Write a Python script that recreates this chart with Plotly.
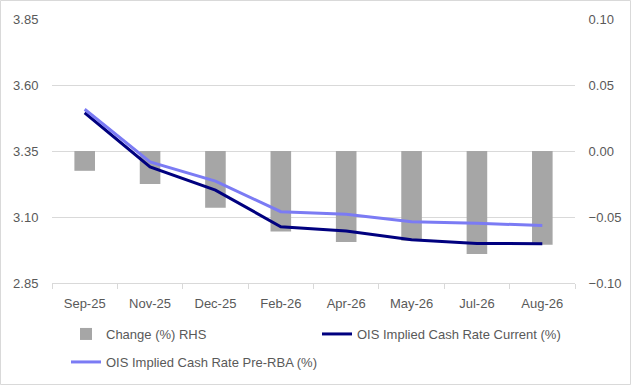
import plotly.graph_objects as go

categories = ["Sep-25", "Nov-25", "Dec-25", "Feb-26", "Apr-26", "May-26", "Jul-26", "Aug-26"]
change_rhs = [-0.015, -0.025, -0.043, -0.061, -0.069, -0.068, -0.078, -0.071]
ois_current = [3.495, 3.290, 3.202, 3.063, 3.047, 3.014, 3.000, 2.999]
ois_pre_rba = [3.508, 3.309, 3.236, 3.120, 3.110, 3.082, 3.076, 3.068]

W, H = 632, 386
ML, MR, MT, MB = 52, 57, 19, 103
PW, PH = W - ML - MR, H - MT - MB

FONT = "Liberation Sans, Arial, sans-serif"
TXT = "#595959"
GRID = "#D9D9D9"

fig = go.Figure()
fig.add_trace(go.Bar(
    x=categories, y=change_rhs, name="Change (%) RHS",
    marker=dict(color="#A6A6A6", line=dict(width=0)),
    yaxis="y", legend="legend", showlegend=True,
))
fig.add_trace(go.Scatter(
    x=categories, y=ois_current, name="OIS Implied Cash Rate Current (%)",
    mode="lines", line=dict(color="#00007F", width=3),
    yaxis="y2", legend="legend3", showlegend=True,
))
fig.add_trace(go.Scatter(
    x=categories, y=ois_pre_rba, name="OIS Implied Cash Rate Pre-RBA (%)",
    mode="lines", line=dict(color="#7B7BF4", width=3),
    yaxis="y2", legend="legend2", showlegend=True,
))

def px_x(p):
    return (p - ML) / PW

def px_y(p):
    return (H - MB - p) / PH

leg_common = dict(
    orientation="h", xanchor="left", yanchor="top",
    font=dict(size=13, color=TXT), bgcolor="rgba(0,0,0,0)",
)

fig.update_layout(
    width=W, height=H,
    showlegend=True,
    margin=dict(l=ML, r=MR, t=MT, b=MB, autoexpand=False),
    paper_bgcolor="white", plot_bgcolor="white",
    font=dict(family=FONT, size=13, color=TXT),
    bargap=0.685,
    xaxis=dict(
        type="category", showgrid=False, showline=True, linecolor=GRID, linewidth=1,
        ticks="outside", tickson="boundaries", ticklen=5, tickcolor=GRID,
        ticklabelstandoff=8,
        tickfont=dict(size=13, color=TXT), fixedrange=True, automargin=False,
    ),
    yaxis=dict(
        side="right", range=[-0.1, 0.1], tick0=-0.1, dtick=0.05, tickformat=".2f",
        showgrid=True, gridcolor=GRID, gridwidth=1, zeroline=False,
        showline=False, ticks="outside", ticklen=0, tickwidth=0,
        tickcolor="rgba(0,0,0,0)", ticklabelstandoff=10, automargin=False,
        tickfont=dict(size=13, color=TXT),
    ),
    yaxis2=dict(
        side="left", overlaying="y", range=[2.85, 3.85], tick0=2.85, dtick=0.25,
        tickformat=".2f", showgrid=False, zeroline=False, showline=False,
        ticks="outside", ticklen=0, tickwidth=0, tickcolor="rgba(0,0,0,0)",
        ticklabelstandoff=10, automargin=False,
        tickfont=dict(size=13, color=TXT),
    ),
    legend=dict(x=px_x(66), y=px_y(319), **leg_common),
    legend3=dict(x=px_x(317), y=px_y(319), **leg_common),
    legend2=dict(x=px_x(66), y=px_y(347), **leg_common),
    shapes=[dict(
        type="rect", xref="paper", yref="paper",
        x0=px_x(0.5), x1=px_x(W - 1.5), y0=px_y(H - 1.5), y1=px_y(0.5),
        line=dict(color=GRID, width=1), fillcolor="rgba(0,0,0,0)", layer="below",
    )],
)

fig.write_html(
    "out.html",
    config={"displayModeBar": False},
    post_script="document.body.style.margin='0';document.body.style.overflow='hidden';",
)
